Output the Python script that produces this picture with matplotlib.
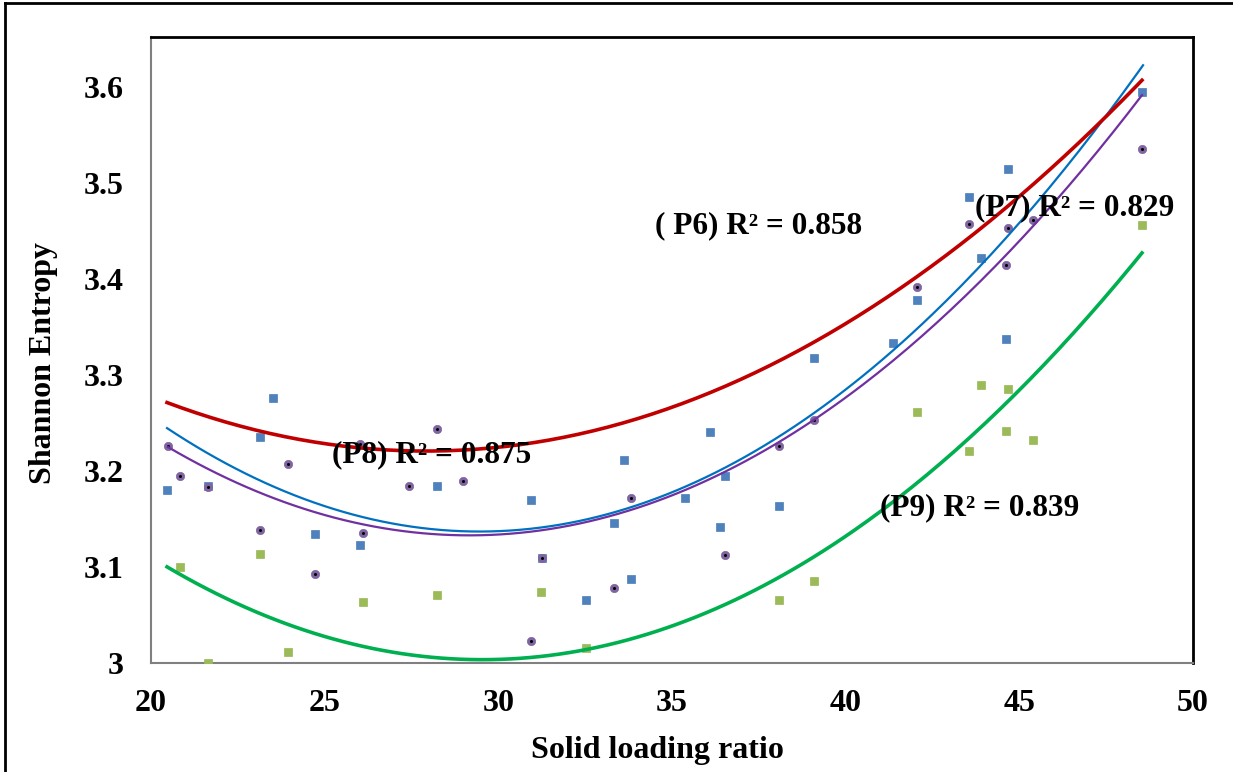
import numpy as np
import matplotlib.pyplot as plt
from matplotlib.lines import Line2D

plt.rcParams['font.family'] = ['Liberation Serif', 'DejaVu Serif']
plt.rcParams['font.weight'] = 'bold'

# scatter data
blue_x = [20.46, 23.51, 23.14, 21.64, 24.72, 26.02, 28.23, 30.94, 31.26, 33.62,
          33.33, 33.82, 32.53, 35.38, 36.10, 36.53, 36.38, 38.08, 39.09, 41.36,
          42.06, 43.55, 44.68, 43.90, 44.62, 48.53]
blue_y = [3.180, 3.276, 3.235, 3.184, 3.134, 3.123, 3.184, 3.170, 3.109, 3.211,
          3.146, 3.087, 3.066, 3.172, 3.241, 3.195, 3.142, 3.164, 3.318, 3.333,
          3.378, 3.485, 3.515, 3.422, 3.337, 3.595]

purple_x = [20.49, 20.84, 21.64, 23.14, 23.94, 24.72, 26.10, 26.02, 27.43, 28.23,
            28.98, 30.94, 31.26, 33.82, 33.33, 36.53, 38.08, 39.09, 42.06, 43.55,
            44.68, 45.40, 44.62, 48.53]
purple_y = [3.226, 3.195, 3.183, 3.138, 3.207, 3.093, 3.135, 3.228, 3.184, 3.244,
            3.190, 3.023, 3.109, 3.172, 3.078, 3.112, 3.226, 3.253, 3.392, 3.457,
            3.453, 3.461, 3.414, 3.535]

green_x = [20.84, 21.64, 23.14, 23.94, 26.10, 28.23, 31.23, 32.53, 38.08, 39.09,
           42.06, 43.90, 44.68, 43.55, 44.62, 45.40, 48.53]
green_y = [3.100, 3.000, 3.114, 3.011, 3.064, 3.071, 3.074, 3.016, 3.066, 3.085,
           3.261, 3.290, 3.285, 3.221, 3.242, 3.232, 3.456]

# points read along each polynomial trendline
p6_tx = [20.46, 27.17, 32.93, 37.54, 48.53]
p6_ty = [3.271, 3.222, 3.243, 3.305, 3.607]
p7_tx = [20.46, 29.60, 37.54, 42.14, 48.56]
p7_ty = [3.245, 3.136, 3.224, 3.352, 3.622]
p8_tx = [20.49, 29.60, 37.54, 42.14, 48.53]
p8_ty = [3.225, 3.133, 3.218, 3.340, 3.591]
p9_tx = [20.46, 29.76, 38.98, 42.14, 48.53]
p9_ty = [3.100, 3.004, 3.107, 3.191, 3.427]

labels = ['( P6) R² = 0.858', '(P7) R² = 0.829', '(P8) R² = 0.875', '(P9) R² = 0.839']

fig = plt.figure(figsize=(12.33, 7.72), dpi=100)
ax = fig.add_axes([0.1225, 0.1412, 0.8451, 0.8109])


def trend(tx, ty):
    xs = np.linspace(tx[0], tx[-1], 200)
    return xs, np.polyval(np.polyfit(tx, ty, 2), xs)


ax.plot(blue_x, blue_y, 's', color='#4F81BD', ms=5.5, mec='#4A7EBB', mew=0.5, zorder=3)
ax.plot(purple_x, purple_y, 'o', color='#8064A2', ms=6, mec='#7E64A0', mew=0.5, zorder=3)
ax.plot(purple_x, purple_y, 'o', color='black', ms=2.2, mew=0, zorder=3)
ax.plot(green_x, green_y, 's', color='#9BBB59', ms=5.5, mec='#98B954', mew=0.5, zorder=3)

ax.plot(*trend(p7_tx, p7_ty), color='#0070C0', lw=1.6, zorder=4)
ax.plot(*trend(p8_tx, p8_ty), color='#7030A0', lw=1.6, zorder=4)
ax.plot(*trend(p9_tx, p9_ty), color='#00B050', lw=2.6, zorder=4)
ax.plot(*trend(p6_tx, p6_ty), color='#C00000', lw=2.6, zorder=4)

ax.text(0.484, 0.698, labels[0], transform=ax.transAxes, fontsize=22.5, va='center', zorder=5)
ax.text(0.791, 0.727, labels[1], transform=ax.transAxes, fontsize=22.5, va='center', zorder=5)
ax.text(0.174, 0.332, labels[2], transform=ax.transAxes, fontsize=22.5, va='center', zorder=5)
ax.text(0.700, 0.248, labels[3], transform=ax.transAxes, fontsize=22.5, va='center', zorder=5)

ax.set_xlim(20, 50)
ax.set_ylim(3, 3.652)
ax.set_xticks([20, 25, 30, 35, 40, 45, 50])
ax.set_xticklabels(['20', '25', '30', '35', '40', '45', '50'])
ax.set_yticks([3, 3.1, 3.2, 3.3, 3.4, 3.5, 3.6])
ax.set_yticklabels(['3', '3.1', '3.2', '3.3', '3.4', '3.5', '3.6'])
ax.tick_params(axis='both', length=0, labelsize=23)
ax.tick_params(axis='x', pad=19)
ax.tick_params(axis='y', pad=20)

ax.spines['left'].set_color('#808080')
ax.spines['bottom'].set_color('#808080')
ax.spines['left'].set_linewidth(1.5)
ax.spines['bottom'].set_linewidth(1.5)
ax.spines['top'].set_linewidth(2)
ax.spines['right'].set_linewidth(2)

ax.set_xlabel('Solid loading ratio', fontsize=23, fontweight='bold', labelpad=13)
ax.set_ylabel('Shannon Entropy', fontsize=23, fontweight='bold', labelpad=18)
ax.xaxis.label.set_x(0.486)
ax.yaxis.label.set_y(0.48)

# outer chart frame (top and left edges visible)
fig.add_artist(Line2D([0.004, 1.0], [0.996, 0.996], transform=fig.transFigure, color='black', lw=2))
fig.add_artist(Line2D([0.004, 0.004], [0.0, 0.996], transform=fig.transFigure, color='black', lw=2))

plt.savefig('out.png', dpi=100)
